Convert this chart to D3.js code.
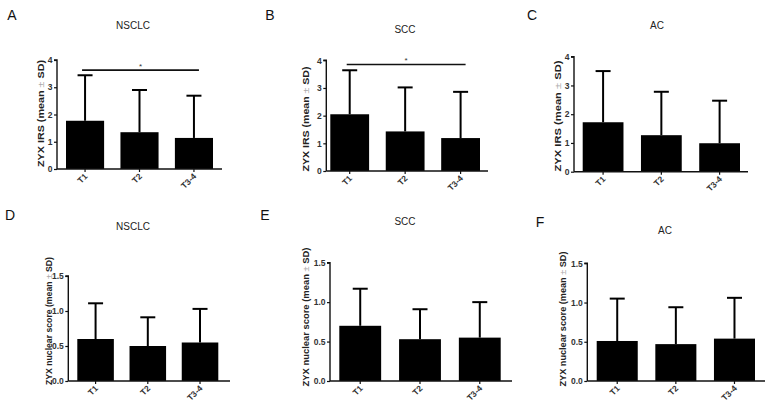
<!DOCTYPE html>
<html>
<head>
<meta charset="utf-8">
<script src="https://cdn.jsdelivr.net/npm/d3@7"></script>
<style>
  html, body { margin: 0; padding: 0; background: #fff; }
  svg { display: block; }
</style>
</head>
<body>
<svg id="chart" width="771" height="410"></svg>
<script>
// ---------- DATA ----------
const categories = ["T1", "T2", "T3-4"];
const irsTicks = [0, 1, 2, 3, 4];
const nuclearTicks = [0, 0.5, 1.0, 1.5];

const irsNSCLCMean = [1.77, 1.35, 1.14];
const irsNSCLCSD   = [1.67, 1.55, 1.55];
const irsSCCMean   = [2.05, 1.43, 1.19];
const irsSCCSD     = [1.59, 1.59, 1.67];
const irsACMean    = [1.72, 1.27, 0.99];
const irsACSD      = [1.78, 1.51, 1.48];

const nucNSCLCMean = [0.60, 0.50, 0.55];
const nucNSCLCSD   = [0.51, 0.41, 0.48];
const nucSCCMean   = [0.70, 0.53, 0.55];
const nucSCCSD     = [0.47, 0.38, 0.45];
const nucACMean    = [0.51, 0.47, 0.54];
const nucACSD      = [0.54, 0.47, 0.52];

const panelLetters = ["A", "B", "C", "D", "E", "F"];
const panelTitles  = ["NSCLC", "SCC", "AC", "NSCLC", "SCC", "AC"];
const irsLabel = "ZYX IRS (mean ± SD)";
const nucLabel = "ZYX nuclear score (mean ± SD)";
const sigMarks  = ["*", "*", null, null, null, null];
const sigLevels = [3.63, 3.85, null, null, null, null];

const panels = [
  { mean: irsNSCLCMean, sd: irsNSCLCSD, ticks: irsTicks, fmt: d3.format("d"),  ylabel: irsLabel },
  { mean: irsSCCMean,   sd: irsSCCSD,   ticks: irsTicks, fmt: d3.format("d"),  ylabel: irsLabel },
  { mean: irsACMean,    sd: irsACSD,    ticks: irsTicks, fmt: d3.format("d"),  ylabel: irsLabel },
  { mean: nucNSCLCMean, sd: nucNSCLCSD, ticks: nuclearTicks, fmt: d3.format(".1f"), ylabel: nucLabel },
  { mean: nucSCCMean,   sd: nucSCCSD,   ticks: nuclearTicks, fmt: d3.format(".1f"), ylabel: nucLabel },
  { mean: nucACMean,    sd: nucACSD,    ticks: nuclearTicks, fmt: d3.format(".1f"), ylabel: nucLabel }
];

// ---------- LAYOUT ----------
const layouts = [
  { ax: 57,    y0: 169,   yTop: 60,    xEnd: 222, band: [66, 213],    letter: [12, 20],  title: [133, 28.5], ylab: [41, 113.5], ylabLen: 107 },
  { ax: 326.3, y0: 171,   yTop: 60.3,  xEnd: 488, band: [330.3, 480], letter: [270, 20], title: [405, 32.5], ylab: [306, 119],   ylabLen: 105 },
  { ax: 574,   y0: 171.7, yTop: 56.7,  xEnd: 748, band: [582.7, 740], letter: [532, 20], title: [657, 29],   ylab: [558, 116],   ylabLen: 111 },
  { ax: 68.3,  y0: 381,   yTop: 276,   xEnd: 230, band: [77.3, 218.3],letter: [10, 220], title: [133, 230],  ylab: [49, 321],    ylabLen: 128 },
  { ax: 330,   y0: 381,   yTop: 262.7, xEnd: 512, band: [339.3, 500.7],letter: [265, 220],title: [405, 225],  ylab: [306, 317],   ylabLen: 139 },
  { ax: 587.3, y0: 381,   yTop: 263.3, xEnd: 765, band: [596.7, 755], letter: [540, 227],title: [665, 233.5],ylab: [562.5, 319], ylabLen: 135 }
];

const svg = d3.select("#chart");
const FONT = "'Liberation Sans', Arial, sans-serif";

panels.forEach((p, i) => {
  const L = layouts[i];
  const g = svg.append("g");
  const yMax = p.ticks[p.ticks.length - 1];
  const y = d3.scaleLinear().domain([0, yMax]).range([L.y0, L.yTop]);
  const x = d3.scaleBand().domain(categories).range(L.band).paddingInner(0.3).paddingOuter(0);

  // panel letter
  g.append("text").attr("x", L.letter[0]).attr("y", L.letter[1])
    .attr("text-anchor", "middle").attr("font-family", FONT).attr("font-size", 14)
    .attr("fill", "#111").text(panelLetters[i]);
  // title
  g.append("text").attr("x", L.title[0]).attr("y", L.title[1])
    .attr("text-anchor", "middle").attr("font-family", FONT).attr("font-size", 10)
    .attr("fill", "#222").text(panelTitles[i]);

  // bars
  const rows = categories.map((c, k) => ({ c, m: p.mean[k], s: p.sd[k] }));
  g.selectAll("rect.bar").data(rows).join("rect").attr("class", "bar")
    .attr("x", d => x(d.c)).attr("width", x.bandwidth())
    .attr("y", d => y(d.m)).attr("height", d => y(0) - y(d.m))
    .attr("fill", "#000");

  // error bars
  const capW = 15;
  g.selectAll("line.err").data(rows).join("line").attr("class", "err")
    .attr("x1", d => x(d.c) + x.bandwidth() / 2).attr("x2", d => x(d.c) + x.bandwidth() / 2)
    .attr("y1", d => y(d.m)).attr("y2", d => y(d.m + d.s))
    .attr("stroke", "#000").attr("stroke-width", 2);
  g.selectAll("line.cap").data(rows).join("line").attr("class", "cap")
    .attr("x1", d => x(d.c) + x.bandwidth() / 2 - capW / 2).attr("x2", d => x(d.c) + x.bandwidth() / 2 + capW / 2)
    .attr("y1", d => y(d.m + d.s)).attr("y2", d => y(d.m + d.s))
    .attr("stroke", "#000").attr("stroke-width", 2);

  // y axis
  const yAxis = d3.axisLeft(y).tickValues(p.ticks).tickFormat(p.fmt).tickSize(3).tickPadding(1.5);
  const ya = g.append("g").attr("transform", `translate(${L.ax},0)`).call(yAxis);
  ya.select(".domain").attr("stroke", "#111").attr("stroke-width", 1.4).attr("d", `M-3,${L.yTop}H0V${L.y0}`);
  ya.selectAll(".tick line").attr("stroke", "#111").attr("stroke-width", 1.2);
  ya.selectAll(".tick text").attr("font-family", FONT).attr("font-size", 8.5)
    .attr("font-weight", "bold").attr("fill", "#333");

  // x axis
  const xa = g.append("g").attr("transform", `translate(0,${L.y0})`)
    .call(d3.axisBottom(x).tickSize(3).tickSizeOuter(0));
  xa.select(".domain").attr("stroke", "#111").attr("stroke-width", 1.4).attr("d", `M${L.ax},0H${L.xEnd}`);
  xa.selectAll(".tick line").attr("stroke", "#111").attr("stroke-width", 1.2);
  xa.selectAll(".tick text")
    .attr("font-family", FONT).attr("font-size", 8.5).attr("font-weight", "bold").attr("fill", "#333")
    .attr("text-anchor", "end").attr("dy", null).attr("y", 0).attr("x", 0)
    .attr("transform", "translate(3,8) rotate(-45)");

  // y label
  const yl = g.append("text")
    .attr("transform", `translate(${L.ylab[0]},${L.ylab[1]}) rotate(-90)`)
    .attr("text-anchor", "middle").attr("dominant-baseline", "central")
    .attr("font-family", FONT).attr("font-size", 9).attr("font-weight", "bold").attr("fill", "#222")
    .attr("textLength", L.ylabLen).attr("lengthAdjust", "spacingAndGlyphs");
  const parts = p.ylabel.split("±");
  yl.append("tspan").text(parts[0]);
  yl.append("tspan").attr("fill", "#aaa").attr("font-weight", "normal").text("±");
  yl.append("tspan").text(parts[1]);

  // significance
  if (sigMarks[i]) {
    const c1 = x(categories[0]) + x.bandwidth() / 2 - 3;
    const c2 = x(categories[2]) + x.bandwidth() / 2 + 5;
    const sy = y(sigLevels[i]);
    g.append("line").attr("x1", c1).attr("x2", c2).attr("y1", sy).attr("y2", sy)
      .attr("stroke", "#111").attr("stroke-width", 1.6);
    g.append("text").attr("x", (c1 + c2) / 2).attr("y", sy - 1.5)
      .attr("text-anchor", "middle").attr("font-family", FONT).attr("font-size", 8)
      .attr("fill", "#333").text(sigMarks[i]);
  }
});
</script>
</body>
</html>
